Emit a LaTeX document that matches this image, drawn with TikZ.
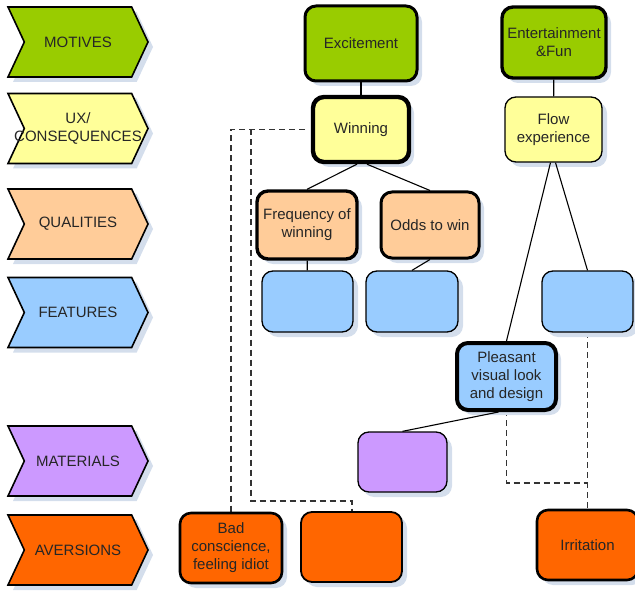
\documentclass[tikz,border=0pt]{standalone}
\usepackage{fontspec}
\setmainfont{Liberation Sans}
\usepackage{tikz}
\usetikzlibrary{shapes.symbols, shadows}
\definecolor{verde}{HTML}{99CC00}
\definecolor{amarillo}{HTML}{FFFF99}
\definecolor{melocoton}{HTML}{FFCC99}
\definecolor{celeste}{HTML}{99CCFF}
\definecolor{lila}{HTML}{CC99FF}
\definecolor{naranja}{HTML}{FF6600}
\definecolor{sombra}{HTML}{D4DEEC}
\definecolor{tinta}{HTML}{262626}
\tikzset{
  every picture/.style={font=\fontsize{15}{18}\selectfont},
  lane/.style={shape=signal, signal from=west, signal to=east, signal pointer angle=130,
               draw=black, line width=1.6pt, text=tinta, minimum width=140pt, minimum height=70pt,
               inner sep=1pt, align=center,
               drop shadow={shadow xshift=5pt, shadow yshift=-5pt, fill=sombra, opacity=1}},
  caja/.style={draw=black, line width=1.3pt, rounded corners=11pt, text=tinta, align=center,
               inner sep=2pt, minimum width=92pt, minimum height=61pt,
               drop shadow={shadow xshift=5pt, shadow yshift=-5pt, fill=sombra, opacity=1}},
  clave/.style={caja, line width=3.4pt},
  enlace/.style={line width=1.1pt, black},
  depende/.style={line width=1.1pt, black!80, dash pattern=on 6pt off 4pt},
}
\begin{document}
\begin{tikzpicture}[x=1pt, y=-1pt]
  \useasboundingbox (0,0) rectangle (635,591);
  % lanes on the left
  \node[lane, fill=verde] (lmot) at (78,42) {MOTIVES};
  \node[lane, fill=amarillo] (lux) at (78,128.5) {UX/\\\makebox[0pt]{CONSEQUENCES}};
  \node[lane, fill=melocoton] (lqua) at (78,224) {QUALITIES};
  \node[lane, fill=celeste] (lfea) at (78,312.5) {FEATURES};
  \node[lane, fill=lila] (lmat) at (78,461) {MATERIALS};
  \node[lane, fill=naranja] (lave) at (78,550) {AVERSIONS};

  % dependencies (behind the boxes)
  \draw[depende] (305,129.5) -| (231,513);
  \draw[depende] (251,129.5) |- (352,501) -- (352,512);
  \draw[depende] (506.5,410) |- (587.5,483);
  \draw[depende] (587.5,332) -- (587.5,510);

  % motives
  \node[clave, fill=verde, line width=3pt, minimum width=112pt, minimum height=75pt] (exc) at (361,43.5) {Excitement};
  \node[clave, fill=verde, minimum width=104pt, minimum height=71pt] (ent) at (554,42.5) {Entertainment\\\&Fun};
  % consequences
  \node[clave, fill=amarillo, line width=4.4pt, minimum width=96pt, minimum height=65pt] (win) at (361,129.5) {Winning};
  \node[caja, fill=amarillo, minimum width=97pt, minimum height=65pt] (flow) at (553.5,129.5) {Flow\\experience};
  % qualities
  \node[clave, fill=melocoton, minimum width=100pt, minimum height=68pt] (freq) at (307,225) {Frequency of\\winning};
  \node[clave, fill=melocoton, line width=3pt, minimum width=98pt, minimum height=66pt] (odds) at (430,225) {Odds to win};
  % features
  \node[caja, fill=celeste, minimum width=91pt] (fea1) at (307.5,301.5) {};
  \node[caja, fill=celeste] (fea2) at (412,301.5) {};
  \node[caja, fill=celeste, minimum width=91pt] (fea3) at (587.5,301.5) {};
  \node[clave, fill=celeste, line width=4pt, minimum width=99pt, minimum height=67pt] (look) at (506.5,376.5) {Pleasant\\visual look\\and design};
  % materials
  \node[caja, fill=lila, minimum width=89pt, minimum height=60pt] (mat) at (402.5,462) {};
  % aversions
  \node[clave, fill=naranja, line width=2.6pt, minimum width=102pt, minimum height=70pt] (bad) at (231,548) {Bad\\conscience,\\feeling idiot};
  \node[caja, fill=naranja, line width=1.8pt, minimum width=101pt, minimum height=70pt] (ave2) at (351.5,547) {};
  \node[clave, fill=naranja, line width=2.6pt, minimum width=101pt, minimum height=70pt] (irr) at (587.5,545) {Irritation};

  \draw[enlace] (exc) -- (win); \draw[enlace] (ent) -- (flow);
  \draw[enlace] ([xshift=-4pt]win.south) -- (freq.north); \draw[enlace] ([xshift=6pt]win.south) -- (odds.north);
  \draw[enlace] (freq) -- (fea1); \draw[enlace] (odds.south) -- (fea2.north);
  \draw[enlace] ([xshift=2pt]flow.south) -- (fea3.north); \draw[enlace] ([xshift=-3pt]flow.south) -- (look.north);
  \draw[enlace] ([xshift=-8pt]look.south) -- (mat.north);
\end{tikzpicture}
\end{document}
